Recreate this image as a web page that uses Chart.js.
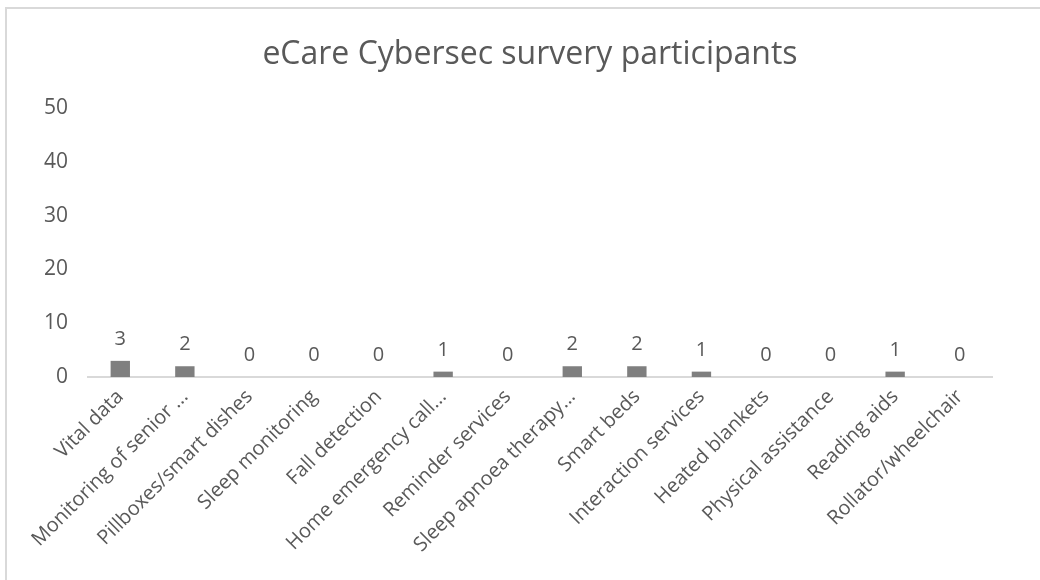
<!DOCTYPE html>
<html>
<head>
<meta charset="utf-8">
<script src="https://cdn.jsdelivr.net/npm/chart.js@4.4.1/dist/chart.umd.min.js"></script>
<style>
  html, body { margin: 0; padding: 0; background: #fff; }
  #wrap { position: relative; width: 1040px; height: 580px; overflow: hidden; }
  #frame { position: absolute; left: 5px; top: 7px; width: 1100px; height: 700px;
           border-top: 2px solid #d9d9d9; border-left: 2px solid #d9d9d9; box-sizing: border-box; }
  canvas { position: absolute; left: 0; top: 0; }
</style>
</head>
<body>
<div id="wrap">
  <div id="frame"></div>
  <canvas id="chart" width="1040" height="580"></canvas>
</div>
<script>
const categories = [
  "Vital data",
  "Monitoring of senior ...",
  "Pillboxes/smart dishes",
  "Sleep monitoring",
  "Fall detection",
  "Home emergency call...",
  "Reminder services",
  "Sleep apnoea therapy...",
  "Smart beds",
  "Interaction services",
  "Heated blankets",
  "Physical assistance",
  "Reading aids",
  "Rollator/wheelchair"
];
const participants = [3, 2, 0, 0, 0, 1, 0, 2, 2, 1, 0, 0, 1, 0];
const yTicks = [0, 10, 20, 30, 40, 50];

const FONT = "'Open Sans', 'Liberation Sans', sans-serif";
const TEXT = "#595959";

// Writes each bar's value above it
const valueLabels = {
  id: "valueLabels",
  afterDatasetsDraw(chart) {
    const ctx = chart.ctx;
    const meta = chart.getDatasetMeta(0);
    ctx.save();
    ctx.font = "20px " + FONT;
    ctx.fillStyle = TEXT;
    ctx.textAlign = "center";
    ctx.textBaseline = "alphabetic";
    meta.data.forEach((bar, i) => {
      const v = chart.data.datasets[0].data[i];
      ctx.fillText(String(v), bar.x, bar.y - 16);
    });
    ctx.restore();
  }
};

new Chart(document.getElementById("chart"), {
  type: "bar",
  data: {
    labels: categories,
    datasets: [{
      data: participants,
      backgroundColor: "#7f7f7f",
      borderWidth: 0,
      barPercentage: 0.3,
      categoryPercentage: 1
    }]
  },
  options: {
    responsive: false,
    animation: false,
    devicePixelRatio: 1,
    layout: { padding: { left: 20, right: 0, top: 0, bottom: 0 } },
    plugins: {
      legend: { display: false },
      tooltip: { enabled: false },
      title: {
        display: true,
        text: "eCare Cybersec survery participants",
        color: TEXT,
        font: { family: FONT, size: 32, weight: "normal" },
        padding: { top: 36, bottom: 33.6 }
      }
    },
    scales: {
      x: {
        grid: { display: false, drawTicks: false },
        border: { display: true, color: "#d9d9d9", width: 2 },
        ticks: {
          color: TEXT,
          font: { family: FONT, size: 20 },
          maxRotation: 45,
          minRotation: 45,
          autoSkip: false,
          padding: 8
        },
        afterFit(scale) { scale.height = 203; }
      },
      y: {
        min: 0,
        max: 50,
        grid: { display: false, drawTicks: false },
        border: { display: false },
        afterBuildTicks(scale) { scale.ticks = yTicks.map(v => ({ value: v })); },
        ticks: {
          color: TEXT,
          font: { family: FONT, size: 21 },
          padding: 20
        },
        afterFit(scale) { scale.width = 68; }
      },
      // empty right-hand margin beside the plot
      yRight: {
        position: "right",
        min: 0,
        max: 50,
        grid: { display: false, drawTicks: false },
        border: { display: false },
        ticks: { display: false },
        afterFit(scale) { scale.width = 48; }
      }
    }
  },
  plugins: [valueLabels]
});
</script>
</body>
</html>
